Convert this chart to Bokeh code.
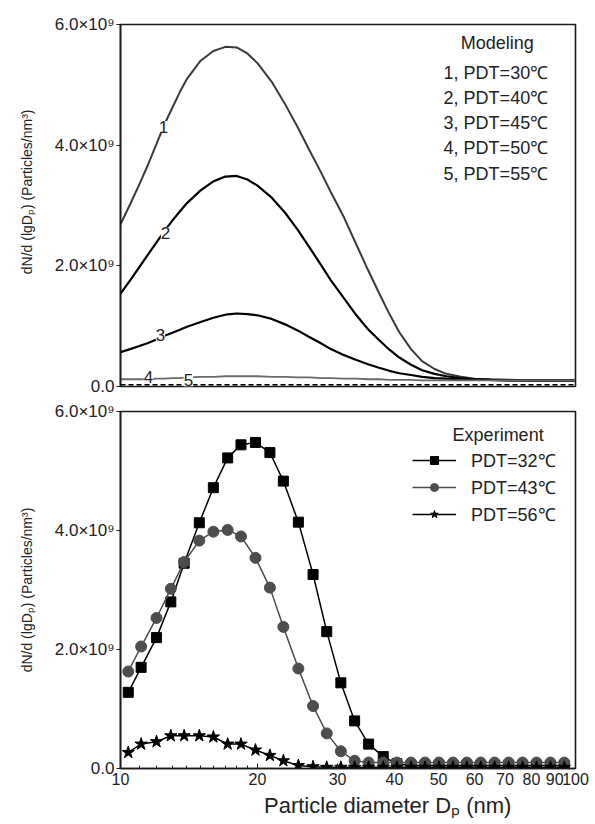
from bokeh.plotting import figure
from bokeh.models import FixedTicker, Label, Legend, LegendItem, Range1d
from bokeh.layouts import column
from bokeh.embed import file_html
from bokeh.resources import INLINE

FONT = "Liberation Sans"
TXT = "#222222"
NBSP = "\u00a0"

# ---------------- data (values in units of 1e9 particles/nm^3) ----------------
model_d = [10, 10.5, 11, 11.5, 12, 12.5, 13, 13.5, 14, 15, 16, 17, 18, 19, 20,
           21.5, 23, 24.5, 26, 27.5, 29, 31, 33, 35, 37, 39, 41, 43.5, 46, 49,
           52, 56, 60, 65, 72, 80, 90, 100]
model_30 = [2.69, 3.02, 3.35, 3.68, 4.02, 4.35, 4.62, 4.88, 5.10, 5.40, 5.56,
            5.63, 5.62, 5.52, 5.36, 5.05, 4.68, 4.30, 3.92, 3.57, 3.22, 2.80,
            2.35, 1.93, 1.55, 1.20, 0.90, 0.62, 0.42, 0.29, 0.21, 0.16, 0.13,
            0.12, 0.11, 0.10, 0.10, 0.10]
model_40 = [1.54, 1.76, 1.98, 2.19, 2.39, 2.58, 2.75, 2.90, 3.04, 3.25, 3.40,
            3.48, 3.49, 3.43, 3.33, 3.13, 2.88, 2.60, 2.31, 2.03, 1.76, 1.46,
            1.18, 0.95, 0.77, 0.61, 0.48, 0.36, 0.27, 0.21, 0.17, 0.14, 0.12,
            0.11, 0.10, 0.10, 0.10, 0.10]
model_45 = [0.57, 0.62, 0.67, 0.72, 0.78, 0.84, 0.89, 0.94, 0.99, 1.07, 1.14,
            1.19, 1.21, 1.20, 1.18, 1.12, 1.03, 0.93, 0.82, 0.72, 0.62, 0.52,
            0.44, 0.37, 0.31, 0.26, 0.22, 0.19, 0.16, 0.14, 0.13, 0.12, 0.11,
            0.11, 0.10, 0.10, 0.10, 0.10]
model_50 = [0.12, 0.12, 0.12, 0.12, 0.13, 0.13, 0.14, 0.14, 0.15, 0.16, 0.16,
            0.17, 0.17, 0.17, 0.17, 0.16, 0.16, 0.15, 0.15, 0.14, 0.14, 0.13,
            0.13, 0.12, 0.12, 0.11, 0.11, 0.11, 0.10, 0.10, 0.10, 0.10, 0.10,
            0.10, 0.10, 0.10, 0.10, 0.10]
model_55 = [0.03, 0.03, 0.03, 0.03, 0.03, 0.03, 0.03, 0.03, 0.03, 0.03, 0.03,
            0.03, 0.03, 0.03, 0.03, 0.03, 0.03, 0.03, 0.03, 0.03, 0.03, 0.03,
            0.03, 0.03, 0.03, 0.03, 0.03, 0.03, 0.03, 0.03, 0.03, 0.03, 0.03,
            0.03, 0.03, 0.03, 0.03, 0.03]
model_labels = ["1, PDT=30\u2103", "2, PDT=40\u2103", "3, PDT=45\u2103",
                "4, PDT=50\u2103", "5, PDT=55\u2103"]

exp_d = [10.4, 11.1, 12.0, 12.9, 13.8, 14.9, 16.0, 17.2, 18.4, 19.8, 21.3, 22.8,
         24.6, 26.5, 28.4, 30.5, 32.7, 35.1, 37.8, 40.5, 43.5, 46.7, 50.1, 53.8,
         57.7, 61.9, 66.4, 71.3, 76.5, 82.1, 88.1, 94.5]
exp_32 = [1.28, 1.70, 2.20, 2.80, 3.45, 4.13, 4.72, 5.22, 5.44, 5.48, 5.31, 4.83,
          4.14, 3.26, 2.30, 1.44, 0.80, 0.41, 0.20, 0.08, 0.05, 0.05, 0.05, 0.05,
          0.05, 0.05, 0.05, 0.05, 0.05, 0.05, 0.05, 0.05]
exp_43 = [1.63, 2.05, 2.53, 3.02, 3.47, 3.83, 3.98, 4.01, 3.90, 3.54, 3.04, 2.38,
          1.68, 1.05, 0.59, 0.29, 0.13, 0.10, 0.10, 0.10, 0.10, 0.10, 0.10, 0.10,
          0.10, 0.10, 0.10, 0.10, 0.10, 0.10, 0.10, 0.10]
exp_56 = [0.27, 0.41, 0.45, 0.55, 0.55, 0.55, 0.53, 0.41, 0.41, 0.31, 0.22, 0.13,
          0.05, 0.03, 0.02, 0.02, 0.02, 0.02, 0.02, 0.02, 0.02, 0.02, 0.02, 0.02,
          0.02, 0.02, 0.02, 0.02, 0.02, 0.02, 0.02, 0.02]
exp_labels = ["PDT=32\u2103", "PDT=43\u2103", "PDT=56\u2103"]

x_ticks = [10, 20, 30, 40, 50, 60, 70, 80, 90, 100]
x_tick_labels = ["10", "20", "30", "40", "50", "60", "70", "80", "90", "100"]
x_minor = [11, 12, 13, 14, 15, 16, 17, 18, 19]
y_ticks = [0, 2, 4, 6]
y_tick_labels = ["0.0", "2.0\u00d710\u2079", "4.0\u00d710\u2079", "6.0\u00d710\u2079"]
y_title = "dN/d (lgD\u209a) (Particles/nm\u00b3)"
x_title = "Particle diameter D\u209a (nm)"


def make_fig(height, top, bottom, y_label):
    p = figure(width=595, height=height, x_axis_type="log",
               x_range=Range1d(10, 100), y_range=Range1d(0, 6),
               output_backend="svg", toolbar_location=None,
               min_border_left=120, min_border_right=20,
               min_border_top=top, min_border_bottom=bottom)
    p.grid.visible = False
    p.background_fill_color = "white"
    p.border_fill_color = "white"
    p.outline_line_color = "#1a1a1a"
    p.outline_line_width = 1.6

    xa = p.xaxis[0]
    xa.ticker = FixedTicker(ticks=x_ticks, minor_ticks=x_minor)
    xa.major_label_overrides = {t: l for t, l in zip(x_ticks, x_tick_labels)}
    xa.major_tick_in = 5
    xa.major_tick_out = 0
    xa.minor_tick_in = 3
    xa.minor_tick_out = 0
    xa.axis_line_color = "#1a1a1a"
    xa.axis_line_width = 1.6
    xa.major_tick_line_color = "#1a1a1a"
    xa.minor_tick_line_color = "#1a1a1a"
    xa.major_label_text_font = FONT
    xa.major_label_text_color = TXT
    xa.major_label_text_font_size = "16px"
    xa.major_label_standoff = 4

    ya = p.yaxis[0]
    ya.ticker = FixedTicker(ticks=y_ticks, minor_ticks=[])
    ya.major_label_overrides = {t: l for t, l in zip(y_ticks, y_tick_labels)}
    ya.major_tick_in = 0
    ya.major_tick_out = 4
    ya.axis_line_color = "#1a1a1a"
    ya.axis_line_width = 1.6
    ya.major_tick_line_color = "#1a1a1a"
    ya.major_label_text_font = FONT
    ya.major_label_text_color = TXT
    ya.major_label_text_font_size = "17px"
    ya.major_label_standoff = 2
    ya.axis_label = y_label
    ya.axis_label_text_font = FONT
    ya.axis_label_text_font_style = "normal"
    ya.axis_label_text_font_size = "14px"
    ya.axis_label_text_color = TXT
    ya.axis_label_standoff = 17
    return p


def text_label(p, x, y, t, align="center", size="18px", bg=None):
    p.add_layout(Label(x=x, y=y, text=t, text_align=align,
                       text_baseline="middle", text_font=FONT,
                       text_font_size=size, text_color=TXT,
                       background_fill_color=bg))


# ---------------- top panel: modelling ----------------
top = make_fig(398, 24, 12, NBSP * 7 + y_title)
top.xaxis.visible = False
top.line(model_d, model_30, line_color="#3a3a3a", line_width=2)
top.line(model_d, model_40, line_color="#000000", line_width=2.2)
top.line(model_d, model_45, line_color="#000000", line_width=2.2)
top.line(model_d, model_50, line_color="#6a6a6a", line_width=1.8)
top.line(model_d, model_55, line_color="#000000", line_width=1.4, line_dash="5 3")

curve_tags = [("1", 12.43, 4.30), ("2", 12.56, 2.54), ("3", 12.24, 0.86),
              ("4", 11.52, 0.16), ("5", 14.1, 0.10)]
for t, x, y in curve_tags:
    text_label(top, x, y, t, size="17px", bg="white")

text_label(top, 67.3, 5.70, "Modeling")
legend_y = [5.19, 4.78, 4.36, 3.95, 3.53]
for t, y in zip(model_labels, legend_y):
    text_label(top, 51.3, y, t, align="left")

# ---------------- bottom panel: experiment ----------------
bot = make_fig(426, 13, 56, y_title)
bx = bot.xaxis[0]
bx.axis_label = NBSP * 13 + x_title
bx.axis_label_text_font = FONT
bx.axis_label_text_font_style = "normal"
bx.axis_label_text_font_size = "22px"
bx.axis_label_text_color = TXT
bx.axis_label_standoff = 5

l32 = bot.line(exp_d, exp_32, line_color="#000000", line_width=1.5)
m32 = bot.scatter(exp_d, exp_32, marker="square", size=10,
                  fill_color="#000000", line_color="#000000")
l43 = bot.line(exp_d, exp_43, line_color="#4a4a4a", line_width=1.5)
m43 = bot.scatter(exp_d, exp_43, marker="circle", size=11,
                  fill_color="#4d4d4d", line_color="#4d4d4d")
l56 = bot.line(exp_d, exp_56, line_color="#000000", line_width=1.5)
m56 = bot.scatter(exp_d, exp_56, marker="star", size=13,
                  fill_color="#000000", line_color="#000000")

legend = Legend(items=[LegendItem(label=exp_labels[0], renderers=[l32, m32]),
                       LegendItem(label=exp_labels[1], renderers=[l43, m43]),
                       LegendItem(label=exp_labels[2], renderers=[l56, m56])],
                location=(292, 242), glyph_width=44, glyph_height=20,
                label_standoff=15, spacing=3, padding=6,
                border_line_color=None, background_fill_alpha=0,
                label_text_font=FONT, label_text_font_size="18px",
                label_text_color=TXT)
bot.add_layout(legend)
text_label(bot, 67.6, 5.61, "Experiment")

layout = column(top, bot, spacing=0)
open("out.html", "w").write(file_html(layout, INLINE))
